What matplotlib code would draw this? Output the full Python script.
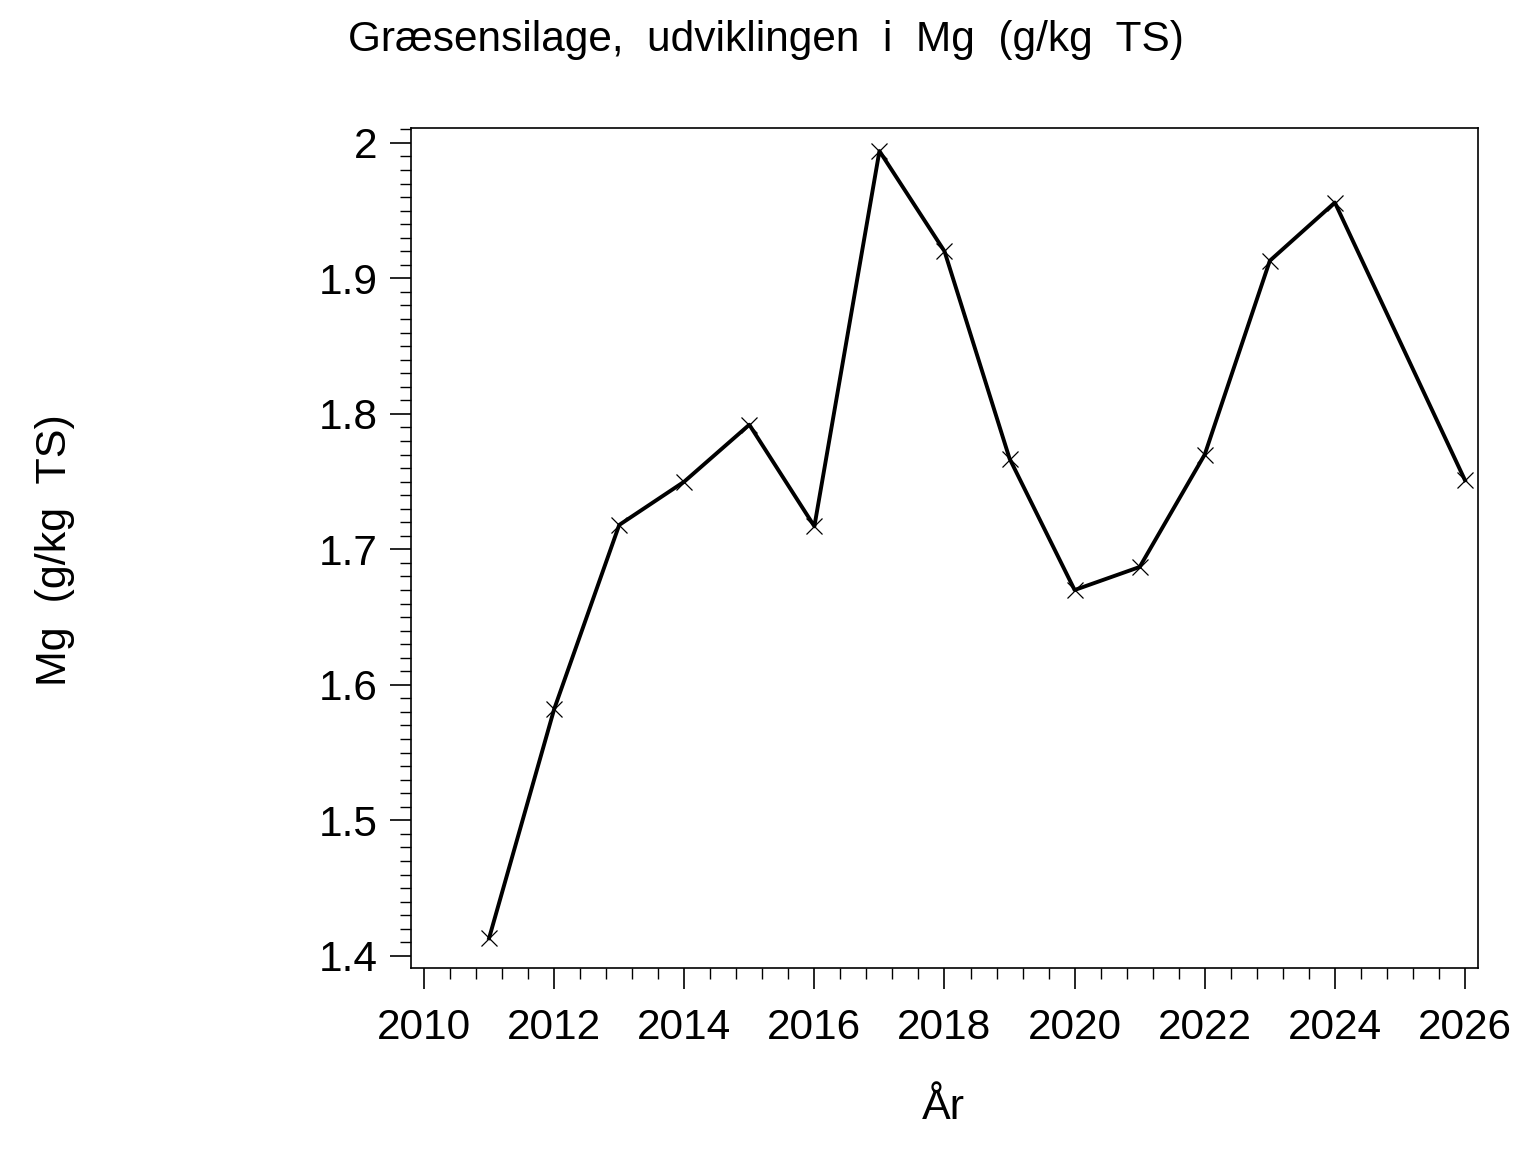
import matplotlib as mpl
import matplotlib.pyplot as plt
from matplotlib.ticker import MultipleLocator

config = {
    "font.family": ["Liberation Sans", "DejaVu Sans"],
    "font.size": 30,
}
mpl.rcParams.update(config)

# data (no point for 2025)
years = [2011, 2012, 2013, 2014, 2015, 2016, 2017, 2018, 2019, 2020,
         2021, 2022, 2023, 2024, 2026]
mg = [1.413, 1.582, 1.718, 1.750, 1.792, 1.717, 1.994, 1.920, 1.767, 1.670,
      1.687, 1.770, 1.913, 1.956, 1.751]

title = "Græsensilage,  udviklingen  i  Mg  (g/kg  TS)"
xlabel = "År"
ylabel = "Mg  (g/kg  TS)"

fig = plt.figure(figsize=(15.36, 11.52), dpi=100)
ax = fig.add_axes([411 / 1536, 1 - 968 / 1152, 1067 / 1536, 840 / 1152])

ax.plot(years, mg, color="black", linewidth=2.8, marker="x",
        markersize=12, markeredgewidth=0.9, clip_on=False)

ax.set_xlim(2009.8, 2026.2)
ax.set_ylim(1.391, 2.011)
ax.xaxis.set_major_locator(MultipleLocator(2))
ax.xaxis.set_minor_locator(MultipleLocator(0.4))
ax.yaxis.set_major_locator(MultipleLocator(0.1))
ax.yaxis.set_minor_locator(MultipleLocator(0.01))
ax.yaxis.set_major_formatter(mpl.ticker.FuncFormatter(lambda v, p: f"{v:g}" if abs(v - 2) > 1e-9 else "2"))

ax.tick_params(which="major", direction="out", length=15, width=1.2,
               labelsize=30.5)
ax.tick_params(axis="x", which="major", pad=14)
ax.tick_params(axis="y", which="major", pad=9)
ax.tick_params(which="minor", direction="out", length=8, width=1.0)
for s in ax.spines.values():
    s.set_linewidth(1.2)

fig.text(766 / 1536, 1 - 40 / 1152, title, ha="center", va="center", fontsize=30.5)
fig.text(943 / 1536, 1 - 1108 / 1152, xlabel, ha="center", va="center", fontsize=31)
fig.text(55 / 1536, 1 - 550 / 1152, ylabel, ha="center", va="center",
         rotation=90, fontsize=31)

plt.savefig("out.png", dpi=100)
plt.close()
